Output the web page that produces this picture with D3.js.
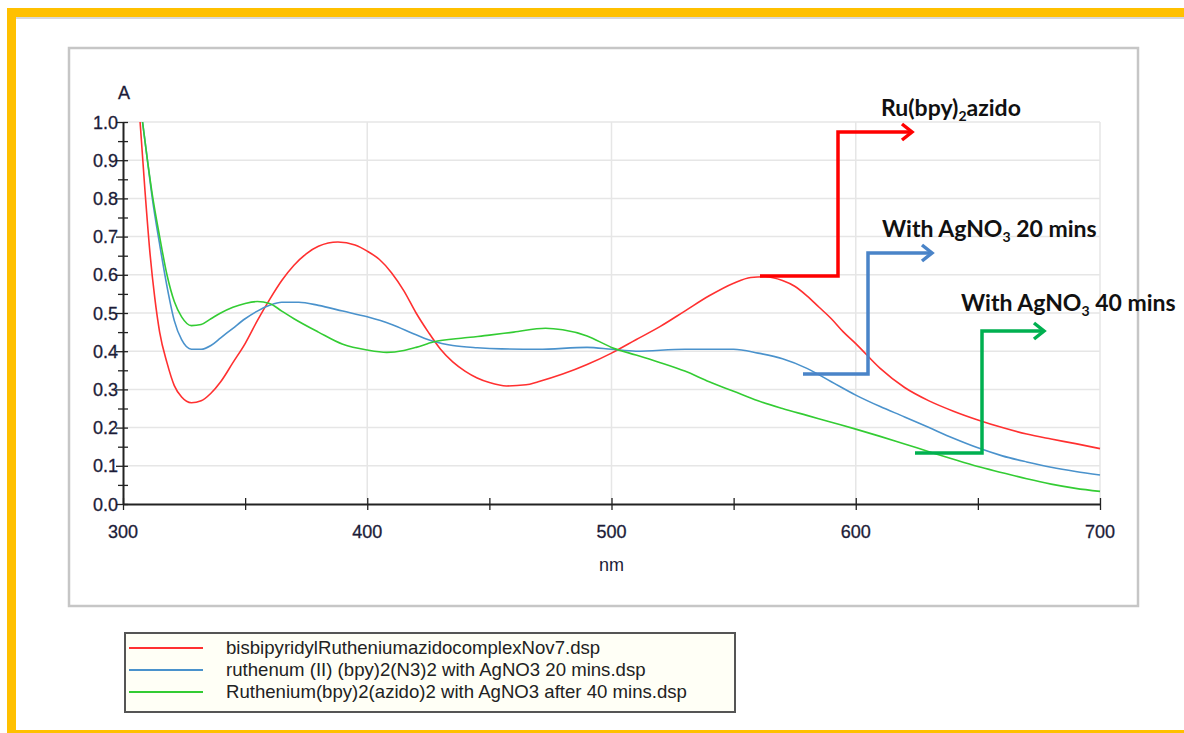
<!DOCTYPE html>
<html>
<head>
<meta charset="utf-8">
<script src="https://cdn.jsdelivr.net/npm/d3@7"></script>
<style>
  body { margin: 0; background: #fff; }
  text { font-family: "Liberation Sans", Arial, sans-serif; }
  .note { font-family: Lato, "Open Sans", sans-serif; font-weight: bold; font-size: 23px; fill: #111; }
</style>
</head>
<body>
<div id="chart"></div>
<script>
// wavelengths (nm) and absorbance values
var redNm = [307, 309, 311, 313, 315, 318, 321, 324, 328, 332, 336, 340, 345, 350, 355, 360, 365, 370, 375, 380, 388, 395, 400, 405, 410, 415, 420, 425, 430, 435, 440, 445, 450, 457, 465, 470, 480, 490, 500, 510, 520, 530, 540, 550, 557, 563, 570, 575, 580, 585, 590, 595, 600, 610, 620, 630, 640, 650, 660, 670, 680, 690, 700]
var redA  = [1.0, 0.82, 0.66, 0.54, 0.45, 0.37, 0.31, 0.28, 0.265, 0.27, 0.29, 0.32, 0.37, 0.42, 0.48, 0.535, 0.585, 0.625, 0.655, 0.675, 0.686, 0.678, 0.662, 0.64, 0.605, 0.558, 0.5, 0.45, 0.405, 0.372, 0.348, 0.33, 0.318, 0.309, 0.312, 0.32, 0.34, 0.365, 0.395, 0.43, 0.465, 0.505, 0.545, 0.578, 0.593, 0.595, 0.585, 0.57, 0.545, 0.515, 0.485, 0.45, 0.42, 0.355, 0.305, 0.27, 0.243, 0.22, 0.2, 0.183, 0.17, 0.158, 0.145]

var blueNm = [308, 310, 312, 315, 318, 321, 324, 328, 332, 336, 340, 345, 350, 355, 360, 365, 372, 380, 390, 400, 410, 420, 427, 435, 445, 455, 470, 490, 500, 510, 530, 550, 560, 570, 580, 590, 600, 610, 620, 630, 640, 650, 660, 670, 680, 690, 700]
var blueA  = [1.0, 0.9, 0.8, 0.68, 0.57, 0.48, 0.43, 0.405, 0.405, 0.415, 0.435, 0.46, 0.485, 0.505, 0.52, 0.528, 0.528, 0.52, 0.505, 0.49, 0.47, 0.443, 0.426, 0.415, 0.409, 0.406, 0.405, 0.41, 0.405, 0.4, 0.405, 0.405, 0.395, 0.38, 0.355, 0.32, 0.285, 0.255, 0.228, 0.2, 0.172, 0.147, 0.126, 0.11, 0.096, 0.085, 0.076]

var greenNm = [308, 310, 312, 315, 318, 321, 324, 328, 332, 336, 340, 345, 350, 355, 360, 365, 370, 380, 390, 400, 408, 415, 420, 427, 440, 450, 460, 473, 480, 490, 500, 510, 520, 530, 540, 550, 560, 570, 580, 590, 600, 610, 620, 630, 640, 650, 660, 670, 680, 690, 700]
var greenA  = [1.0, 0.9, 0.81, 0.7, 0.6, 0.53, 0.49, 0.467, 0.47, 0.485, 0.5, 0.515, 0.525, 0.53, 0.525, 0.505, 0.485, 0.45, 0.418, 0.403, 0.397, 0.402, 0.41, 0.424, 0.435, 0.442, 0.45, 0.46, 0.456, 0.44, 0.41, 0.39, 0.37, 0.348, 0.32, 0.295, 0.27, 0.25, 0.232, 0.214, 0.196, 0.177, 0.157, 0.137, 0.117, 0.098, 0.082, 0.066, 0.052, 0.041, 0.033]

var seriesNames = [
  "bisbipyridylRutheniumazidocomplexNov7.dsp",
  "ruthenum (II) (bpy)2(N3)2 with AgNO3 20 mins.dsp",
  "Ruthenium(bpy)2(azido)2 with AgNO3 after 40 mins.dsp"
]
var seriesColors = ["#ff3030", "#4a92cc", "#33cc33"]

var xTicks = [300, 400, 500, 600, 700]
var yTicks = [0, 0.1, 0.2, 0.3, 0.4, 0.5, 0.6, 0.7, 0.8, 0.9, 1.0]

var width = 1184, height = 733

var svg = d3.select("#chart").append("svg")
  .attr("width", width)
  .attr("height", height)

// yellow slide frame
svg.append("rect")
  .attr("x", 11.5).attr("y", 12.5)
  .attr("width", 1300).attr("height", 722)
  .attr("fill", "none")
  .attr("stroke", "#ffc000")
  .attr("stroke-width", 9)
svg.append("line")
  .attr("x1", 16).attr("x2", width).attr("y1", 18).attr("y2", 18)
  .attr("stroke", "#d8d8d8").attr("stroke-width", 2)

// gray chart panel
svg.append("rect")
  .attr("x", 69).attr("y", 48)
  .attr("width", 1069).attr("height", 558)
  .attr("fill", "#fff")
  .attr("stroke", "#c6c6c6")
  .attr("stroke-width", 2.5)

var x = d3.scaleLinear().domain([300, 700]).range([123, 1100])
var y = d3.scaleLinear().domain([0, 1]).range([504, 122])

// grid
svg.append("g").selectAll("line")
  .data(yTicks.slice(1))
  .enter().append("line")
  .attr("x1", x(300)).attr("x2", x(700))
  .attr("y1", d => y(d)).attr("y2", d => y(d))
  .attr("stroke", "#e6e6e6").attr("stroke-width", 1.5)
svg.append("g").selectAll("line")
  .data(xTicks.slice(1))
  .enter().append("line")
  .attr("x1", d => x(d)).attr("x2", d => x(d))
  .attr("y1", y(0)).attr("y2", y(1))
  .attr("stroke", "#e6e6e6").attr("stroke-width", 1.5)

// axes
var xAxis = svg.append("g")
  .attr("transform", "translate(0," + y(0) + ")")
  .call(d3.axisBottom(x).tickValues(d3.range(300, 701, 50)).tickSize(0).tickFormat(""))
xAxis.select(".domain").attr("stroke", "#222").attr("stroke-width", 2)
xAxis.selectAll(".tick line").attr("y1", -6).attr("y2", 6).attr("stroke", "#222").attr("stroke-width", 1.3)

svg.append("g").selectAll("text")
  .data(xTicks)
  .enter().append("text")
  .attr("x", d => x(d)).attr("y", 538)
  .attr("text-anchor", "middle")
  .attr("font-size", 18).attr("fill", "#1c1c38")
  .attr("stroke", "#1c1c38").attr("stroke-width", 0.3)
  .text(d => d)

var yAxis = svg.append("g")
  .attr("transform", "translate(" + x(300) + ",0)")
  .call(d3.axisLeft(y).tickValues(d3.range(0, 1.001, 0.05)).tickSize(0).tickFormat(""))
yAxis.select(".domain").attr("stroke", "#222").attr("stroke-width", 2)
yAxis.selectAll(".tick line")
  .attr("x1", (d, i) => i % 2 == 0 ? -7 : -5)
  .attr("x2", 5)
  .attr("stroke", "#222").attr("stroke-width", 1.3)

svg.append("g").selectAll("text")
  .data(yTicks)
  .enter().append("text")
  .attr("x", 118).attr("y", d => y(d) + 6.5)
  .attr("text-anchor", "end")
  .attr("font-size", 18).attr("fill", "#1c1c38")
  .attr("stroke", "#1c1c38").attr("stroke-width", 0.3)
  .text(d => d.toFixed(1))

svg.append("text").attr("x", 124).attr("y", 99)
  .attr("text-anchor", "middle").attr("font-size", 18).attr("fill", "#1c1c38")
  .attr("stroke", "#1c1c38").attr("stroke-width", 0.3)
  .text("A")
svg.append("text").attr("x", x(500)).attr("y", 571)
  .attr("text-anchor", "middle").attr("font-size", 18).attr("fill", "#1c1c38")
  .text("nm")

// spectra
var line = d3.line()
  .x(d => x(d[0]))
  .y(d => y(d[1]))
  .curve(d3.curveMonotoneX)

var series = [
  d3.zip(redNm, redA),
  d3.zip(blueNm, blueA),
  d3.zip(greenNm, greenA)
]

svg.append("g").selectAll("path")
  .data(series)
  .enter().append("path")
  .attr("d", line)
  .attr("fill", "none")
  .attr("stroke", (d, i) => seriesColors[i])
  .attr("stroke-width", 1.6)

// legend
var legend = svg.append("g")
legend.append("rect")
  .attr("x", 125).attr("y", 633)
  .attr("width", 610).attr("height", 79)
  .attr("fill", "#fffff6")
  .attr("stroke", "#555").attr("stroke-width", 2)

var rows = legend.selectAll("g.row")
  .data(seriesNames)
  .enter().append("g")
  .attr("class", "row")
  .attr("transform", (d, i) => "translate(0," + (648 + i * 22) + ")")
rows.append("line")
  .attr("x1", 129).attr("x2", 203)
  .attr("stroke", (d, i) => seriesColors[i])
  .attr("stroke-width", 2)
rows.append("text")
  .attr("x", 226).attr("y", 6)
  .attr("font-size", 18.6).attr("fill", "#222")
  .text(d => d)

// annotation arrows (elbow connectors)
var arrows = [
  { color: "#ff0000", pts: [[760, 276], [838, 276], [838, 132], [912, 132]] },
  { color: "#4a84c8", pts: [[803, 374], [868, 374], [868, 253], [932, 253]] },
  { color: "#00b050", pts: [[915, 453], [982, 453], [982, 331], [1044, 331]] }
]
arrows.forEach(function(a) {
  svg.append("path")
    .attr("d", d3.line()(a.pts))
    .attr("fill", "none")
    .attr("stroke", a.color)
    .attr("stroke-width", 3.5)
  var tip = a.pts[a.pts.length - 1]
  svg.append("path")
    .attr("d", d3.line()([[tip[0] - 10, tip[1] - 8], [tip[0], tip[1]], [tip[0] - 10, tip[1] + 8]]))
    .attr("fill", "none")
    .attr("stroke", a.color)
    .attr("stroke-width", 3.5)
})

// annotation labels
var t1 = svg.append("text").attr("class", "note").attr("x", 881).attr("y", 116)
t1.append("tspan").text("Ru(bpy)")
t1.append("tspan").attr("font-size", 14).attr("dy", 5).text("2")
t1.append("tspan").attr("dy", -5).text("azido")

var t2 = svg.append("text").attr("class", "note").attr("x", 882).attr("y", 237)
t2.append("tspan").text("With AgNO")
t2.append("tspan").attr("font-size", 14).attr("dy", 5).text("3")
t2.append("tspan").attr("dy", -5).text(" 20 mins")

var t3 = svg.append("text").attr("class", "note").attr("x", 961).attr("y", 311)
t3.append("tspan").text("With AgNO")
t3.append("tspan").attr("font-size", 14).attr("dy", 5).text("3")
t3.append("tspan").attr("dy", -5).text(" 40 mins")
</script>
</body>
</html>
